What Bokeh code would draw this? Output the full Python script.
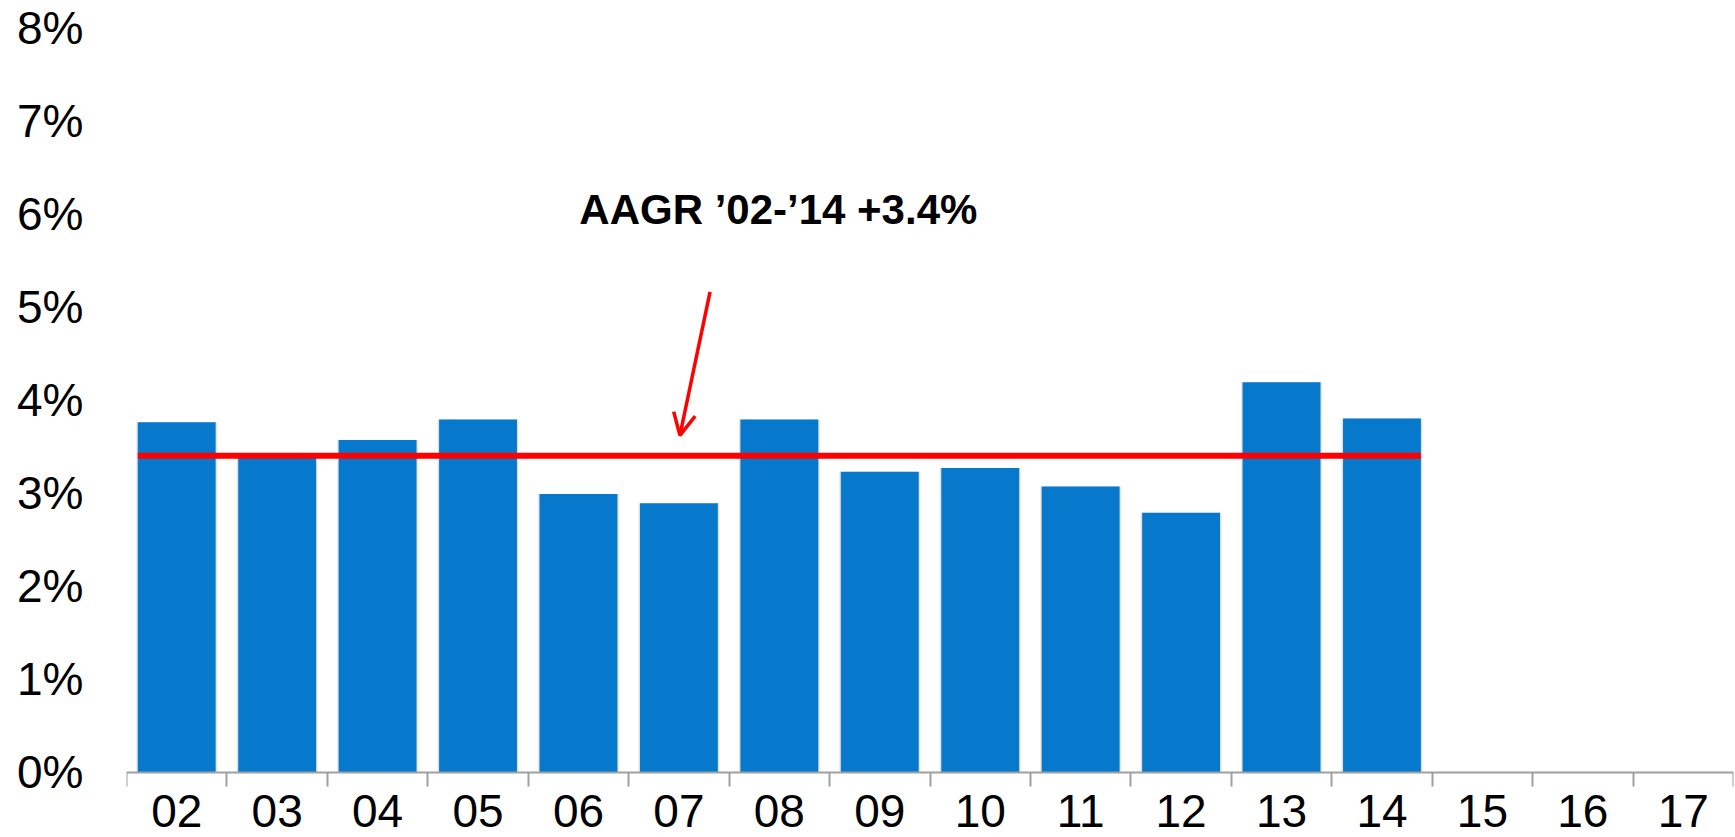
from bokeh.plotting import figure
from bokeh.models import FixedTicker, Range1d, Arrow, OpenHead, Label, LinearAxis, ColumnDataSource
from bokeh.embed import file_html
from bokeh.resources import INLINE

# ---- data ----
years = ["02", "03", "04", "05", "06", "07", "08", "09", "10", "11", "12", "13", "14", "15", "16", "17"]
growth = [3.76, 3.43, 3.57, 3.79, 2.99, 2.89, 3.79, 3.23, 3.27, 3.07, 2.79, 4.19, 3.80]
aagr = 3.4
aagr_first, aagr_last = "02", "14"
aagr_text = "AAGR \u201902-\u201914 +3.4%"
y_ticks = [0, 1, 2, 3, 4, 5, 6, 7, 8]

FONT = "Liberation Sans"
BAR_W = 0.775

centers = [i + 0.5 for i in range(len(years))]
src = ColumnDataSource(dict(x=centers[:len(growth)], top=growth, year=years[:len(growth)]))

# frame runs to the bottom of the canvas; the x axis sits at y=0 inside it
p = figure(width=1735, height=837, x_range=Range1d(0, len(years)), y_range=Range1d(-0.698, 8),
           output_backend="svg", toolbar_location=None,
           x_axis_location=None, y_axis_location=None,
           min_border_left=126, min_border_right=2, min_border_top=27, min_border_bottom=0)
p.outline_line_color = None
p.xgrid.visible = False
p.ygrid.visible = False
p.background_fill_color = "white"
p.border_fill_color = "white"

# soft bar shadow
p.vbar(x="x", top="top", bottom=0, width=BAR_W + 0.035, source=src,
       fill_color="#000000", fill_alpha=0.07, line_color=None)
p.vbar(x="x", top="top", bottom=0, width=BAR_W + 0.018, source=src,
       fill_color="#000000", fill_alpha=0.07, line_color=None)
# bars
p.vbar(x="x", top="top", bottom=0, width=BAR_W, source=src,
       fill_color="#0779CD", line_color=None)

# AAGR line from left edge of first bar to right edge of last bar
i0 = years.index(aagr_first)
i1 = years.index(aagr_last)
p.line(x=[centers[i0] - BAR_W / 2, centers[i1] + BAR_W / 2], y=[aagr, aagr],
       line_color="#FF0000", line_width=6)

# arrow pointing at the line
p.add_layout(Arrow(end=OpenHead(size=22, line_color="#FF0000", line_width=3.5),
                   x_start=5.81, y_start=5.16, x_end=5.51, y_end=3.62,
                   line_color="#FF0000", line_width=3.5))

p.add_layout(Label(x=6.49, y=6.05, text=aagr_text, text_align="center", text_baseline="middle",
                   text_font=FONT, text_font_size="42px", text_font_style="bold",
                   text_color="black"))

# x axis: labels at category centres, ticks at boundaries
xaxis = LinearAxis(ticker=FixedTicker(ticks=centers, minor_ticks=list(range(len(years) + 1))),
                   fixed_location=0,
                   major_label_overrides={c: y for c, y in zip(centers, years)},
                   axis_line_color="#A0A0A0", axis_line_width=2,
                   major_tick_line_color=None, major_tick_out=0, major_tick_in=0,
                   minor_tick_line_color="#A0A0A0", minor_tick_line_width=2,
                   minor_tick_out=14, minor_tick_in=0,
                   major_label_standoff=9,
                   major_label_text_font=FONT, major_label_text_font_size="46px",
                   major_label_text_color="black")
p.add_layout(xaxis, "below")

yaxis = LinearAxis(ticker=FixedTicker(ticks=y_ticks, minor_ticks=[]),
                   major_label_overrides={t: f"{t}%" for t in y_ticks},
                   axis_line_color=None, major_tick_line_color=None, minor_tick_line_color=None,
                   major_tick_out=0, major_tick_in=0,
                   major_label_standoff=43,
                   major_label_text_font=FONT, major_label_text_font_size="46px",
                   major_label_text_color="black")
p.add_layout(yaxis, "left")

open("out.html", "w").write(file_html(p, INLINE))
